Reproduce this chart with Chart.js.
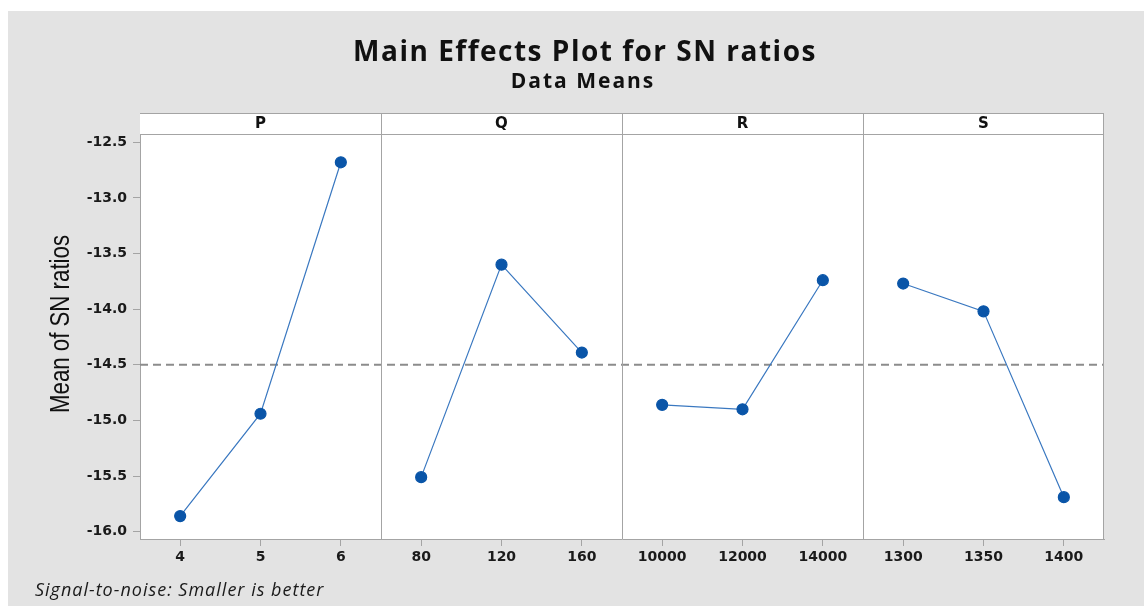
<!DOCTYPE html>
<html>
<head>
<meta charset="utf-8">
<script src="https://cdn.jsdelivr.net/npm/chart.js@4.4.1/dist/chart.umd.min.js"></script>
<style>
  body { margin: 0; background: #fff; }
  #wrap { position: absolute; left: 8px; top: 11px; width: 1136px; height: 595px; background: #e3e3e3; }
</style>
</head>
<body>
<div id="wrap"><canvas id="effects-chart" width="1136" height="595"></canvas></div>
<script>
//======================= DATA ============================================//
const panels = ['P', 'Q', 'R', 'S'];
const pLevels = ['4', '5', '6'];
const qLevels = ['80', '120', '160'];
const rLevels = ['10000', '12000', '14000'];
const sLevels = ['1300', '1350', '1400'];
const pMeans = [-15.86, -14.94, -12.68];
const qMeans = [-15.51, -13.60, -14.39];
const rMeans = [-14.86, -14.90, -13.74];
const sMeans = [-13.77, -14.02, -15.69];
const grandMean = -14.50;
const yTicks = [-16.0, -15.5, -15.0, -14.5, -14.0, -13.5, -13.0, -12.5];

const chartTitle = 'Main Effects Plot for SN ratios';
const chartSubtitle = 'Data Means';
const yTitle = 'Mean of SN ratios';
const footNote = 'Signal-to-noise: Smaller is better';

const levels = [pLevels, qLevels, rLevels, sLevels];
const means = [pMeans, qMeans, rMeans, sMeans];
const categories = [].concat(pLevels, qLevels, rLevels, sLevels);

const frameColor = '#a4a4a4';
const lineColor = '#3a78c0';
const dotColor = '#0a55a8';

function makeDataset(idx){
    return {
        label: panels[idx],
        data: levels[idx].map((lv, i) => ({x: lv, y: means[idx][i]})),
        borderColor: lineColor,
        borderWidth: 1.2,
        backgroundColor: dotColor,
        pointBackgroundColor: dotColor,
        pointBorderColor: dotColor,
        pointRadius: 5.5,
        pointHoverRadius: 5.5,
        tension: 0
    }
}

//======================= PLUGIN: frame, strips, texts =====================//
const panelPlugin = {
    id: 'panelPlugin',
    beforeDraw(chart){
        const {ctx, chartArea: a} = chart;
        ctx.save();
        ctx.fillStyle = '#fff';
        ctx.fillRect(a.left, a.top, a.right - a.left, a.bottom - a.top);
        ctx.restore();
    },
    beforeDatasetsDraw(chart){
        const {ctx, chartArea: a, scales} = chart;
        const y = scales.y.getPixelForValue(grandMean);
        ctx.save();
        ctx.strokeStyle = '#8c8c8c';
        ctx.lineWidth = 2;
        ctx.setLineDash([8, 5]);
        ctx.beginPath();
        ctx.moveTo(a.left, y);
        ctx.lineTo(a.right, y);
        ctx.stroke();
        ctx.restore();
    },
    afterDraw(chart){
        const {ctx, chartArea: a, scales} = chart;
        const stripH = 21;
        ctx.save();
        // strip band
        ctx.fillStyle = '#fff';
        ctx.fillRect(a.left, a.top, a.right - a.left, stripH);
        ctx.strokeStyle = frameColor;
        ctx.lineWidth = 1;
        ctx.beginPath();
        ctx.moveTo(a.left, a.top + 0.5);
        ctx.lineTo(a.right, a.top + 0.5);
        ctx.moveTo(a.left, a.top + stripH + 0.5);
        ctx.lineTo(a.right, a.top + stripH + 0.5);
        ctx.moveTo(a.right - 0.5, a.top);
        ctx.lineTo(a.right - 0.5, a.bottom);
        for(let k = 1; k < panels.length; k++){
            const x = Math.round(scales.x.getPixelForValue(k * 3 - 0.5)) + 0.5;
            ctx.moveTo(x, a.top);
            ctx.lineTo(x, a.bottom);
        }
        ctx.stroke();
        // strip labels
        ctx.fillStyle = '#111';
        ctx.font = 'bold 15px "DejaVu Sans"';
        ctx.textAlign = 'center';
        ctx.textBaseline = 'middle';
        panels.forEach((p, k) => {
            const x = scales.x.getPixelForValue(k * 3 + 1);
            ctx.fillText(p, x, a.top + stripH / 2 + 1);
        });
        // titles
        ctx.letterSpacing = '1.5px';
        ctx.font = 'bold 28px "Open Sans"';
        ctx.fillText(chartTitle, 577, 42);
        ctx.letterSpacing = '2px';
        ctx.font = 'bold 21px "Open Sans"';
        ctx.fillText(chartSubtitle, 575, 71);
        ctx.letterSpacing = '0px';
        // y axis title (Minitab squeezes it)
        ctx.save();
        ctx.translate(53, 313);
        ctx.rotate(-Math.PI / 2);
        ctx.font = '28px "Liberation Sans"';
        const w = ctx.measureText(yTitle).width;
        ctx.scale(178 / w, 1);
        ctx.fillText(yTitle, 0, 0);
        ctx.restore();
        // footnote
        ctx.letterSpacing = '1px';
        ctx.font = 'italic 18px "Open Sans"';
        ctx.textAlign = 'left';
        ctx.textBaseline = 'alphabetic';
        ctx.fillStyle = '#1a1a1a';
        ctx.fillText(footNote, 27, 585);
        ctx.letterSpacing = '0px';
        ctx.restore();
    }
};

//======================= CHART ============================================//
const ctx = document.getElementById('effects-chart').getContext('2d');
const effectsChart = new Chart(ctx, {
    type: 'line',
    data: {
        labels: categories,
        datasets: [0, 1, 2, 3].map(makeDataset)
    },
    options: {
        responsive: false,
        animation: false,
        layout: { padding: { left: 0, top: 102, right: 40, bottom: 0 } },
        plugins: {
            legend: { display: false },
            tooltip: { enabled: false }
        },
        scales: {
            x: {
                type: 'category',
                offset: true,
                grid: { drawOnChartArea: false, drawTicks: true, tickLength: 7, color: frameColor },
                border: { color: frameColor, width: 1 },
                ticks: {
                    color: '#1a1a1a',
                    font: { family: 'DejaVu Sans', size: 14, weight: 'bold' },
                    padding: 3,
                    autoSkip: false,
                    maxRotation: 0
                },
                afterFit(scale){ scale.height = 67; }
            },
            y: {
                min: -16.066,
                max: -12.237,
                grid: { drawOnChartArea: false, drawTicks: true, tickLength: 7, color: frameColor },
                border: { color: frameColor, width: 1 },
                afterBuildTicks(scale){ scale.ticks = yTicks.map(v => ({value: v})); },
                ticks: {
                    color: '#1a1a1a',
                    font: { family: 'DejaVu Sans', size: 14, weight: 'bold' },
                    padding: 6,
                    callback: v => v.toFixed(1)
                },
                afterFit(scale){ scale.width = 132; }
            }
        }
    },
    plugins: [panelPlugin]
});
</script>
</body>
</html>
